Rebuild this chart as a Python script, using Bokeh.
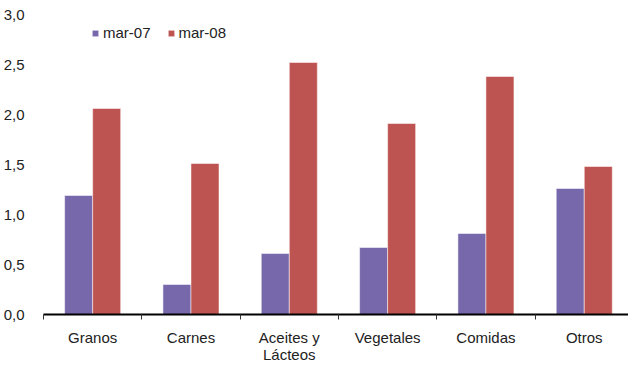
from bokeh.plotting import figure
from bokeh.models import Range1d, FixedTicker, CustomJSTickFormatter, ColumnDataSource
from bokeh.transform import dodge
from bokeh.embed import file_html
from bokeh.resources import INLINE

categories = ["Granos", "Carnes", "Aceites y\nLácteos", "Vegetales", "Comidas", "Otros"]
series_names = ["mar-07", "mar-08"]
mar07 = [1.19, 0.30, 0.61, 0.67, 0.81, 1.26]
mar08 = [2.06, 1.51, 2.52, 1.91, 2.38, 1.48]
y_ticks = [0.0, 0.5, 1.0, 1.5, 2.0, 2.5, 3.0]

FONT = "Liberation Sans"
FS = "15px"

xs = [i + 0.5 for i in range(len(categories))]
src = ColumnDataSource(dict(x=xs, mar07=mar07, mar08=mar08))

p = figure(width=628, height=365, x_range=Range1d(0, 5.95), y_range=Range1d(0, 3.0),
           output_backend="svg", toolbar_location=None,
           min_border_left=42, min_border_right=0, min_border_top=14, min_border_bottom=49)
p.outline_line_color = None
p.xgrid.visible = False
p.ygrid.visible = False

bw = 0.285
p.vbar(x=dodge("x", -bw / 2), top="mar07", width=bw, source=src,
       fill_color="#7767AB", line_color="white", line_alpha=0.5, line_width=1,
       legend_label=series_names[0])
p.vbar(x=dodge("x", bw / 2), top="mar08", width=bw, source=src,
       fill_color="#BE5451", line_color="white", line_alpha=0.5, line_width=1,
       legend_label=series_names[1])

# y axis
p.yaxis.ticker = FixedTicker(ticks=y_ticks)
p.yaxis.formatter = CustomJSTickFormatter(code="return tick.toFixed(1).replace('.', ',');")
p.yaxis.axis_line_color = None
p.yaxis.major_tick_line_color = None
p.yaxis.minor_tick_line_color = None
p.yaxis.major_label_standoff = 13
p.yaxis.major_label_text_font = FONT
p.yaxis.major_label_text_font_size = FS
p.yaxis.major_label_text_color = "#222222"

# x axis
p.xaxis.ticker = FixedTicker(ticks=xs, minor_ticks=list(range(len(categories) + 1)))
p.xaxis.formatter = CustomJSTickFormatter(args=dict(labels=categories),
                                          code="return labels[Math.floor(tick)];")
p.xaxis.axis_line_color = "black"
p.xaxis.axis_line_width = 2
p.xaxis.major_tick_line_color = None
p.xaxis.major_tick_out = 0
p.xaxis.major_tick_in = 0
p.xaxis.minor_tick_line_color = "#333333"
p.xaxis.minor_tick_out = 5
p.xaxis.minor_tick_in = 0
p.xaxis.major_label_standoff = 9
p.xaxis.major_label_text_line_height = 1.0
p.xaxis.major_label_text_font = FONT
p.xaxis.major_label_text_font_size = FS
p.xaxis.major_label_text_color = "#222222"

lg = p.legend[0]
lg.orientation = "horizontal"
lg.location = (48, 273)
lg.margin = 0
lg.padding = 0
lg.border_line_color = None
lg.background_fill_alpha = 0
lg.glyph_width = 8
lg.glyph_height = 8
lg.label_standoff = 4
lg.spacing = 16
lg.label_text_font = FONT
lg.label_text_font_size = FS
lg.label_text_color = "#222222"

open("out.html", "w").write(file_html(p, INLINE))
